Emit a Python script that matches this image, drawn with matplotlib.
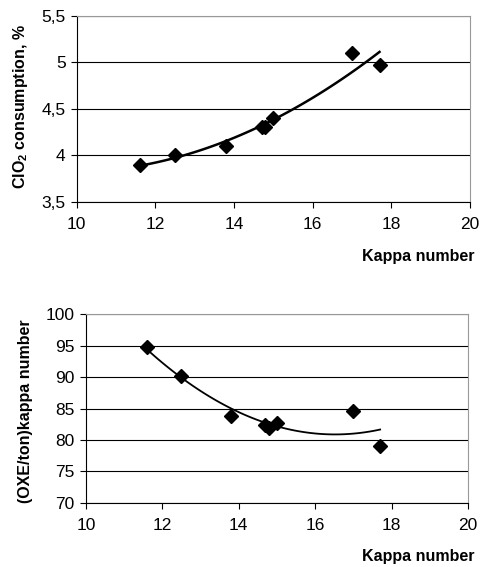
import numpy as np
import matplotlib
matplotlib.use("Agg")
import matplotlib.pyplot as plt
from matplotlib.ticker import FixedLocator, FuncFormatter

plt.rcParams['font.family'] = ['Liberation Sans', 'DejaVu Sans']
plt.rcParams['mathtext.fontset'] = 'custom'
plt.rcParams['mathtext.rm'] = 'Liberation Sans'
plt.rcParams['mathtext.bf'] = 'Liberation Sans:bold'

kappa = [11.6, 12.5, 13.8, 14.7, 14.8, 15.0, 17.0, 17.7]
clo2 = [3.9, 4.0, 4.1, 4.3, 4.3, 4.4, 5.1, 4.97]
oxe = [94.8, 90.1, 83.8, 82.4, 81.9, 82.7, 84.6, 79.1]

x_ticks = [10, 12, 14, 16, 18, 20]
clo2_ticks = [3.5, 4, 4.5, 5, 5.5]
oxe_ticks = [70, 75, 80, 85, 90, 95, 100]

fig = plt.figure(figsize=(4.8, 5.67), dpi=100)
ax1 = fig.add_axes([0.160, 0.644, 0.819, 0.328])
ax2 = fig.add_axes([0.179, 0.113, 0.796, 0.333])


def style(ax, yticks):
    ax.set_xlim(10, 20)
    ax.set_ylim(yticks[0], yticks[-1])
    ax.xaxis.set_major_locator(FixedLocator(x_ticks))
    ax.yaxis.set_major_locator(FixedLocator(yticks))
    ax.grid(axis='y', color='black', linewidth=0.8)
    ax.set_axisbelow(True)
    for s in ['top', 'right']:
        ax.spines[s].set_color('#999999')
    for s in ['left', 'bottom']:
        ax.spines[s].set_color('black')
    ax.tick_params(direction='out', length=4, width=0.8, labelsize=12.5)
    ax.tick_params(axis='x', pad=7)
    ax.tick_params(axis='y', pad=4)


def trend(ax, x, y, lw, ms):
    c = np.polyfit(x, y, 2)
    xs = np.linspace(min(x), max(x), 100)
    ax.plot(xs, np.polyval(c, xs), color='black', linewidth=lw)
    ax.plot(x, y, 'D', color='black', markersize=ms, clip_on=False)


style(ax1, clo2_ticks)
ax1.yaxis.set_major_formatter(FuncFormatter(lambda v, p: ('%g' % v).replace('.', ',')))
trend(ax1, kappa, clo2, 1.8, 7.5)
fig.text(0.042, 0.812, r'$\mathbf{ClO_2}$ consumption, %', fontweight='bold', fontsize=11.5,
         rotation=90, ha='center', va='center')
fig.text(0.754, 0.547, 'Kappa number', fontweight='bold', fontsize=11.5, va='center', ha='left')

style(ax2, oxe_ticks)
trend(ax2, kappa, oxe, 1.3, 7)
fig.text(0.053, 0.275, '(OXE/ton)kappa number', fontweight='bold', fontsize=11.5,
         rotation=90, ha='center', va='center')
fig.text(0.754, 0.018, 'Kappa number', fontweight='bold', fontsize=11.5, va='center', ha='left')

fig.savefig('out.png', dpi=100)
